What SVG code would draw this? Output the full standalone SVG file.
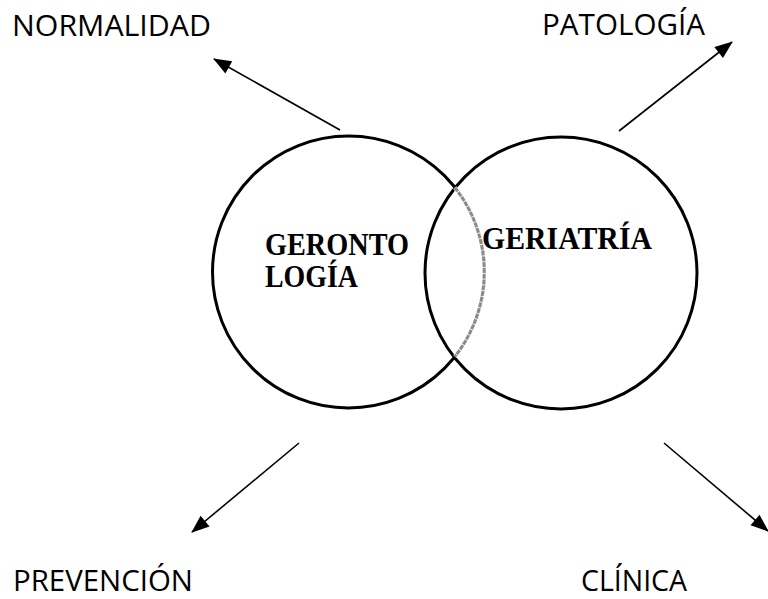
<svg xmlns="http://www.w3.org/2000/svg" width="768" height="599" viewBox="0 0 768 599">
<style>
.lbl{font-family:"Open Sans","Liberation Sans",sans-serif;font-size:29px;fill:#000}
.in{font-family:"Liberation Serif","Times New Roman",serif;font-size:31px;font-weight:bold;fill:#000}
.circ{fill:none;stroke:#000;stroke-width:3}
.arr{stroke:#000;stroke-width:1.6;fill:none;marker-end:url(#ah)}
</style>
<defs>
<marker id="ah" viewBox="0 0 18 14" refX="17" refY="7" markerWidth="18" markerHeight="14" markerUnits="userSpaceOnUse" orient="auto" overflow="visible">
<path d="M0,0 L18,7 L0,14 Z" fill="#000"/>
</marker>
</defs>
<rect width="768" height="599" fill="#fff"/>
<g id="gerontologia">
<circle class="circ" cx="348.5" cy="272" r="136"/>
<text class="in" x="265" y="255" textLength="144" lengthAdjust="spacingAndGlyphs">GERONTO</text>
<text class="in" x="265" y="287" textLength="93" lengthAdjust="spacingAndGlyphs">LOGÍA</text>
</g>
<g id="geriatria">
<circle class="circ" cx="561" cy="273" r="136"/>
<path d="M454.8,187.5 A136,136 0 0 1 454.8,356.5" fill="none" stroke="#fff" stroke-width="4"/>
<path d="M454.8,187.5 A136,136 0 0 1 454.8,356.5" fill="none" stroke="#8a8a8a" stroke-width="3" stroke-dasharray="5,0.8"/>
<text class="in" x="482" y="249" textLength="170" lengthAdjust="spacingAndGlyphs">GERIATRÍA</text>
</g>
<g id="normalidad"><text class="lbl" x="12" y="36" textLength="199" lengthAdjust="spacingAndGlyphs">NORMALIDAD</text></g>
<g id="patologia"><text class="lbl" x="542" y="35" textLength="163" lengthAdjust="spacingAndGlyphs">PATOLOGÍA</text></g>
<g id="prevencion"><text class="lbl" x="13" y="591" textLength="180" lengthAdjust="spacingAndGlyphs">PREVENCIÓN</text></g>
<g id="clinica"><text class="lbl" x="581" y="591" textLength="106" lengthAdjust="spacingAndGlyphs">CLÍNICA</text></g>
<g id="connectors">
<line class="arr" x1="340" y1="130" x2="214" y2="59"/>
<line class="arr" x1="619" y1="131" x2="732" y2="42"/>
<line class="arr" x1="299" y1="443" x2="192" y2="532"/>
<line class="arr" x1="664" y1="443" x2="768" y2="531"/>
</g>
</svg>
